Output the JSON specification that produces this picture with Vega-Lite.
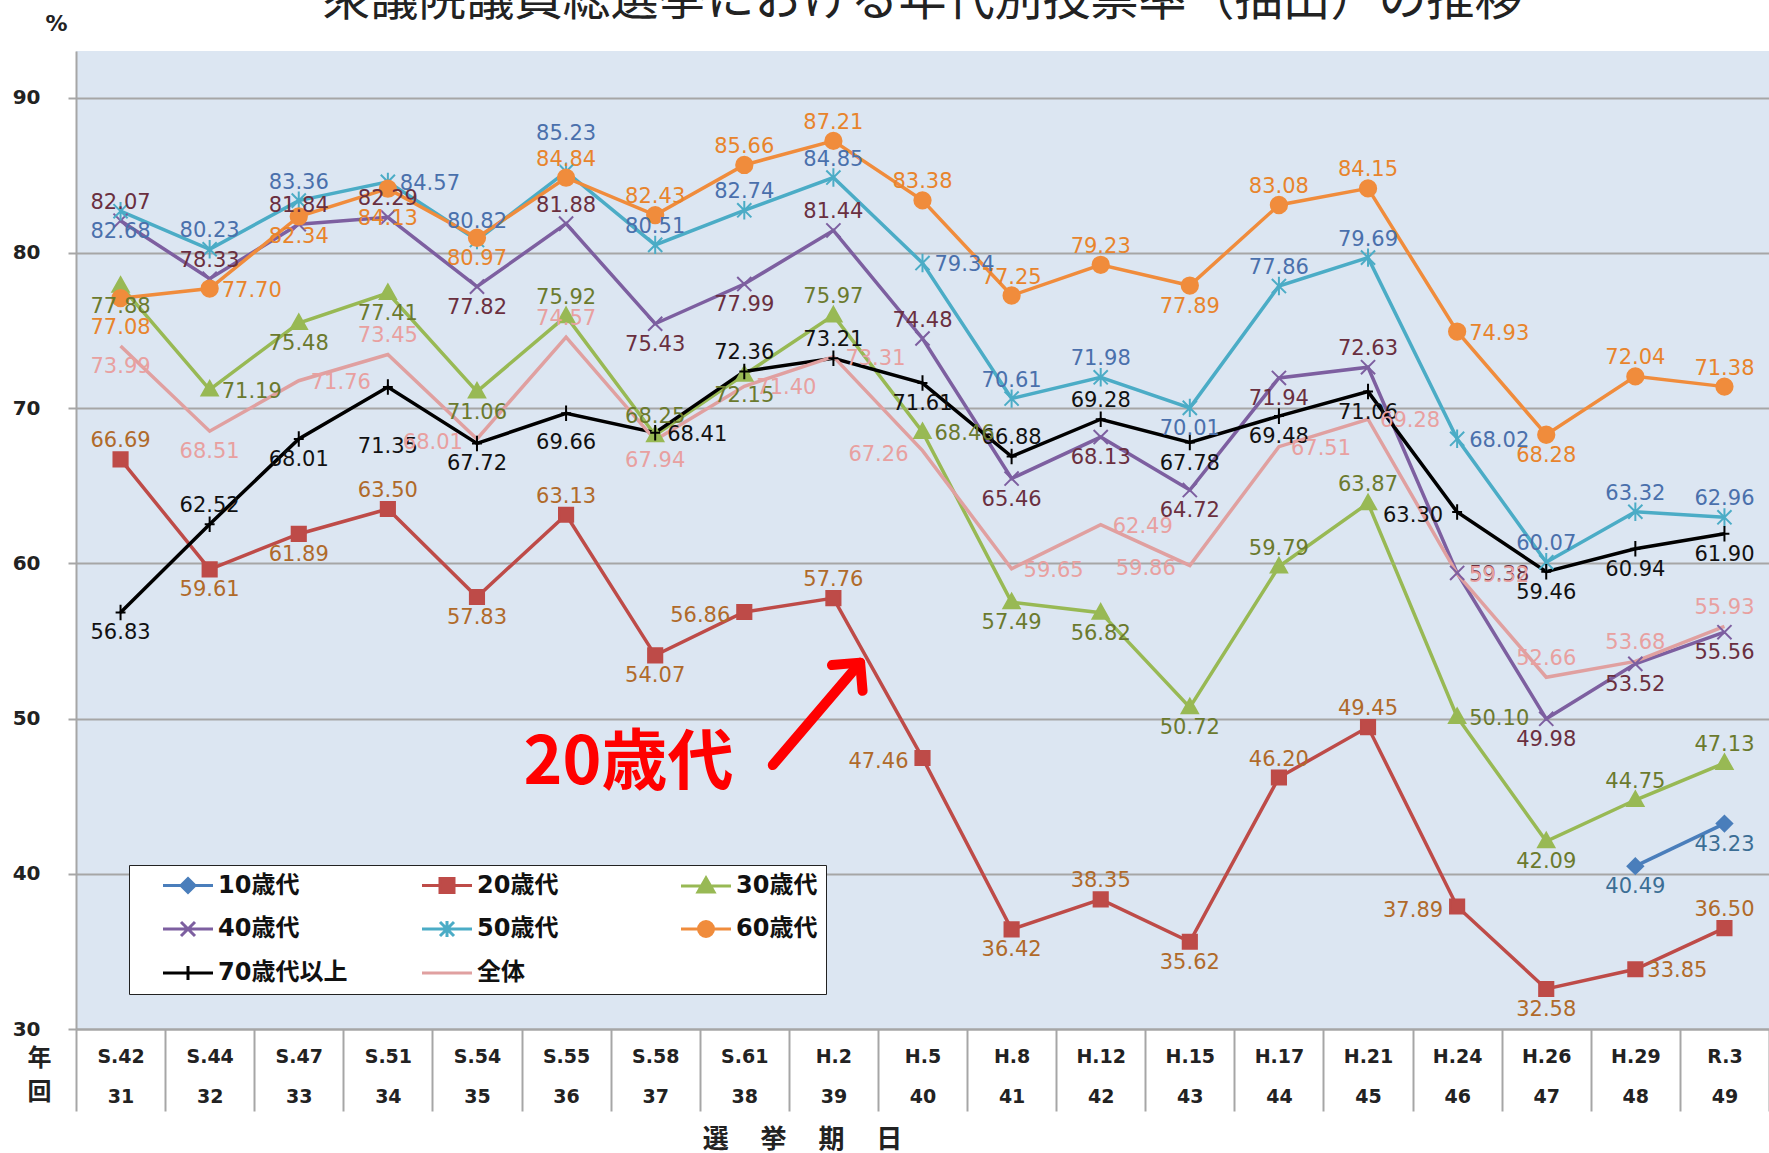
{
  "$schema": "https://vega.github.io/schema/vega-lite/v6.json",
  "width": 1693,
  "height": 978,
  "autosize": {"type": "none"},
  "padding": {"left": 76, "top": 51, "right": 0, "bottom": 124},
  "background": "#FFFFFF",
  "config": {
    "view": {"fill": "#DCE6F2", "stroke": null},
    "font": "DejaVu Sans"
  },
  "title": {
    "text": "衆議院議員総選挙における年代別投票率（抽出）の推移",
    "font": "Noto Sans CJK JP",
    "fontSize": 48,
    "fontWeight": "normal",
    "color": "#222222",
    "anchor": "middle",
    "frame": "group",
    "baseline": "alphabetic",
    "offset": 0,
    "dy": 51
  },
  "resolve": {"scale": {"x": "independent", "y": "independent"}},
  "layer": [
    {
      "data": {
        "values": [
          {"x": "S.42 31", "k": 31, "20歳代": 66.69, "30歳代": 77.88, "40歳代": 82.07, "50歳代": 82.68, "60歳代": 77.08, "70歳代以上": 56.83, "全体": 73.99},
          {"x": "S.44 32", "k": 32, "20歳代": 59.61, "30歳代": 71.19, "40歳代": 78.33, "50歳代": 80.23, "60歳代": 77.70, "70歳代以上": 62.52, "全体": 68.51},
          {"x": "S.47 33", "k": 33, "20歳代": 61.89, "30歳代": 75.48, "40歳代": 81.84, "50歳代": 83.36, "60歳代": 82.34, "70歳代以上": 68.01, "全体": 71.76},
          {"x": "S.51 34", "k": 34, "20歳代": 63.50, "30歳代": 77.41, "40歳代": 82.29, "50歳代": 84.57, "60歳代": 84.13, "70歳代以上": 71.35, "全体": 73.45},
          {"x": "S.54 35", "k": 35, "20歳代": 57.83, "30歳代": 71.06, "40歳代": 77.82, "50歳代": 80.82, "60歳代": 80.97, "70歳代以上": 67.72, "全体": 68.01},
          {"x": "S.55 36", "k": 36, "20歳代": 63.13, "30歳代": 75.92, "40歳代": 81.88, "50歳代": 85.23, "60歳代": 84.84, "70歳代以上": 69.66, "全体": 74.57},
          {"x": "S.58 37", "k": 37, "20歳代": 54.07, "30歳代": 68.25, "40歳代": 75.43, "50歳代": 80.51, "60歳代": 82.43, "70歳代以上": 68.41, "全体": 67.94},
          {"x": "S.61 38", "k": 38, "20歳代": 56.86, "30歳代": 72.15, "40歳代": 77.99, "50歳代": 82.74, "60歳代": 85.66, "70歳代以上": 72.36, "全体": 71.40},
          {"x": "H.2 39", "k": 39, "20歳代": 57.76, "30歳代": 75.97, "40歳代": 81.44, "50歳代": 84.85, "60歳代": 87.21, "70歳代以上": 73.21, "全体": 73.31},
          {"x": "H.5 40", "k": 40, "20歳代": 47.46, "30歳代": 68.46, "40歳代": 74.48, "50歳代": 79.34, "60歳代": 83.38, "70歳代以上": 71.61, "全体": 67.26},
          {"x": "H.8 41", "k": 41, "20歳代": 36.42, "30歳代": 57.49, "40歳代": 65.46, "50歳代": 70.61, "60歳代": 77.25, "70歳代以上": 66.88, "全体": 59.65},
          {"x": "H.12 42", "k": 42, "20歳代": 38.35, "30歳代": 56.82, "40歳代": 68.13, "50歳代": 71.98, "60歳代": 79.23, "70歳代以上": 69.28, "全体": 62.49},
          {"x": "H.15 43", "k": 43, "20歳代": 35.62, "30歳代": 50.72, "40歳代": 64.72, "50歳代": 70.01, "60歳代": 77.89, "70歳代以上": 67.78, "全体": 59.86},
          {"x": "H.17 44", "k": 44, "20歳代": 46.20, "30歳代": 59.79, "40歳代": 71.94, "50歳代": 77.86, "60歳代": 83.08, "70歳代以上": 69.48, "全体": 67.51},
          {"x": "H.21 45", "k": 45, "20歳代": 49.45, "30歳代": 63.87, "40歳代": 72.63, "50歳代": 79.69, "60歳代": 84.15, "70歳代以上": 71.06, "全体": 69.28},
          {"x": "H.24 46", "k": 46, "20歳代": 37.89, "30歳代": 50.10, "40歳代": 59.38, "50歳代": 68.02, "60歳代": 74.93, "70歳代以上": 63.30, "全体": 59.32},
          {"x": "H.26 47", "k": 47, "20歳代": 32.58, "30歳代": 42.09, "40歳代": 49.98, "50歳代": 60.07, "60歳代": 68.28, "70歳代以上": 59.46, "全体": 52.66},
          {"x": "H.29 48", "k": 48, "10歳代": 40.49, "20歳代": 33.85, "30歳代": 44.75, "40歳代": 53.52, "50歳代": 63.32, "60歳代": 72.04, "70歳代以上": 60.94, "全体": 53.68},
          {"x": "R.3 49", "k": 49, "10歳代": 43.23, "20歳代": 36.50, "30歳代": 47.13, "40歳代": 55.56, "50歳代": 62.96, "60歳代": 71.38, "70歳代以上": 61.90, "全体": 55.93}
        ]
      },
      "transform": [
        {"fold": ["10歳代", "20歳代", "30歳代", "40歳代", "50歳代", "60歳代", "70歳代以上", "全体"], "as": ["g", "v"]},
        {"filter": "isValid(datum.v)"}
      ],
      "encoding": {
        "x": {
          "field": "x",
          "type": "nominal",
          "scale": {
            "type": "band",
            "domain": ["S.42 31", "S.44 32", "S.47 33", "S.51 34", "S.54 35", "S.55 36", "S.58 37", "S.61 38", "H.2 39", "H.5 40", "H.8 41", "H.12 42", "H.15 43", "H.17 44", "H.21 45", "H.24 46", "H.26 47", "H.29 48", "R.3 49"],
            "paddingInner": 0,
            "paddingOuter": 0
          },
          "axis": {
            "orient": "bottom",
            "title": "選　  挙　  期　  日",
            "titleFont": "Noto Sans CJK JP",
            "titleFontSize": 26,
            "titleFontWeight": "bold",
            "titleColor": "#222222",
            "titleX": 726,
            "titleY": 110,
            "titleAlign": "center",
            "titleBaseline": "middle",
            "labelExpr": "split(datum.label, ' ')",
            "labelFont": "DejaVu Sans",
            "labelFontSize": 19,
            "labelFontWeight": "bold",
            "labelColor": "#222222",
            "labelLineHeight": 40,
            "labelBaseline": "top",
            "labelPadding": -64,
            "labelAngle": 0,
            "labelOverlap": false,
            "labelBound": false,
            "tickBand": "extent",
            "tickSize": 82,
            "tickColor": "#A6A6A6",
            "tickWidth": 2,
            "domainColor": "#A6A6A6",
            "domainWidth": 2,
            "grid": false
          }
        },
        "y": {
          "field": "v",
          "type": "quantitative",
          "scale": {"domain": [30, 93], "nice": false, "zero": false},
          "axis": {
            "orient": "left",
            "values": [30, 40, 50, 60, 70, 80, 90],
            "grid": true,
            "gridColor": "#A6A6A6",
            "gridWidth": 2,
            "tickSize": 8,
            "tickColor": "#A6A6A6",
            "tickWidth": 2,
            "domainColor": "#A6A6A6",
            "domainWidth": 2,
            "labelFont": "DejaVu Sans",
            "labelFontSize": 20,
            "labelFontWeight": "bold",
            "labelColor": "#222222",
            "labelPadding": 28,
            "title": "%",
            "titleAngle": 0,
            "titleX": -20,
            "titleY": -28,
            "titleAlign": "center",
            "titleBaseline": "middle",
            "titleFont": "DejaVu Sans",
            "titleFontSize": 22,
            "titleFontWeight": "bold",
            "titleColor": "#222222"
          }
        }
      },
      "layer": [
        {
          "mark": {"type": "line", "strokeWidth": 3.5},
          "encoding": {
            "order": {"field": "k", "type": "quantitative"},
            "color": {
              "field": "g",
              "type": "nominal",
              "scale": {
                "domain": ["10歳代", "20歳代", "30歳代", "40歳代", "50歳代", "60歳代", "70歳代以上", "全体"],
                "range": ["#4A7EBB", "#BE4B48", "#98B954", "#7D5FA0", "#4BACC6", "#F08C3C", "#000000", "#E0A0A0"]
              },
              "legend": {
                "orient": "none",
                "legendX": 53,
                "legendY": 814,
                "direction": "horizontal",
                "columns": 3,
                "title": null,
                "fillColor": "#FFFFFF",
                "strokeColor": "#222222",
                "padding": 8,
                "rowPadding": 16,
                "columnPadding": 48,
                "gridAlign": "all",
                "symbolSize": 400,
                "symbolStrokeWidth": 3,
                "labelOffset": 57,
                "labelFont": "DejaVu Sans, Noto Sans CJK JP",
                "labelFontSize": 24,
                "labelFontWeight": "bold",
                "labelColor": "#111111",
                "labelLimit": 300,
                "encode": {
                  "symbols": {
                    "update": {
                      "shape": {"signal": "datum.value === '10歳代' ? 'M1.4,0H6.4M3.9,-0.7L4.6,0L3.9,0.7L3.2,0Z' : datum.value === '20歳代' ? 'M1.4,0H6.4M3.2,-0.7H4.6V0.7H3.2Z' : datum.value === '30歳代' ? 'M1.4,0H6.4M3.9,-0.8L4.7,0.6H3.1Z' : datum.value === '40歳代' ? 'M1.4,0H6.4M3.2,-0.7L4.6,0.7M3.2,0.7L4.6,-0.7' : datum.value === '50歳代' ? 'M1.4,0H6.4M3.2,-0.7L4.6,0.7M3.2,0.7L4.6,-0.7M3.9,-0.8V0.8' : datum.value === '60歳代' ? 'M1.4,0H6.4M4.65,0A0.75,0.75,0,1,1,3.15,0A0.75,0.75,0,1,1,4.65,0Z' : datum.value === '70歳代以上' ? 'M1.4,0H6.4M3.9,-0.7V0.7' : 'M1.4,0H6.4'"},
                      "fill": {"scale": "color", "field": "value"},
                      "stroke": {"scale": "color", "field": "value"},
                      "opacity": {"value": 1}
                    }
                  }
                }
              }
            }
          }
        },
        {
          "transform": [{"filter": "datum.g !== '全体'"}],
          "mark": {"type": "point", "filled": true, "size": 200, "strokeWidth": 2, "opacity": 1},
          "encoding": {
            "color": {"field": "g", "type": "nominal"},
            "shape": {
              "field": "g",
              "type": "nominal",
              "scale": {
                "domain": ["10歳代", "20歳代", "30歳代", "40歳代", "50歳代", "60歳代", "70歳代以上"],
                "range": [
                  "M0,-1.1L1.1,0L0,1.1L-1.1,0Z",
                  "M-1,-1H1V1H-1Z",
                  "M0,-1.2L1.15,0.85H-1.15Z",
                  "M-1,-1L1,1M-1,1L1,-1",
                  "M-1,-1L1,1M-1,1L1,-1M0,-1.3V1.3",
                  "M1.15,0A1.15,1.15,0,1,1,-1.15,0A1.15,1.15,0,1,1,1.15,0Z",
                  "M0,-1.1V1.1M-0.7,0H0.7"
                ]
              },
              "legend": null
            },
            "stroke": {
              "field": "g",
              "type": "nominal",
              "scale": {
                "domain": ["10歳代", "20歳代", "30歳代", "40歳代", "50歳代", "60歳代", "70歳代以上", "全体"],
                "range": ["#4A7EBB", "#BE4B48", "#98B954", "#7D5FA0", "#4BACC6", "#F08C3C", "#000000", "#E0A0A0"]
              },
              "legend": null
            }
          }
        },
        {
          "transform": [
            {"filter": "(datum.g == '20歳代' && indexof([31,34,36,39,42,44,45,49], datum.k) >= 0) || (datum.g == '30歳代' && indexof([36,37,39,44,45,48,49], datum.k) >= 0) || (datum.g == '40歳代' && indexof([31,32,33,34,36,39,40,45], datum.k) >= 0) || (datum.g == '50歳代' && indexof([32,33,35,37,38,39,41,42,44,45,47,48,49], datum.k) >= 0) || (datum.g == '60歳代' && indexof([36,37,38,39,40,41,42,44,45,48,49], datum.k) >= 0) || (datum.g == '70歳代以上' && indexof([32,38,39,41,42], datum.k) >= 0) || (datum.g == '全体' && indexof([34,36,47,48,49], datum.k) >= 0)"}
          ],
          "mark": {"type": "text", "font": "DejaVu Sans", "fontSize": 21, "dy": -18, "baseline": "middle", "align": "center"},
          "encoding": {
            "text": {"field": "v", "type": "quantitative", "format": ".2f"},
            "fill": {
              "field": "g",
              "type": "nominal",
              "scale": {
                "domain": ["10歳代", "20歳代", "30歳代", "40歳代", "50歳代", "60歳代", "70歳代以上", "全体"],
                "range": ["#3B6E95", "#B06A2A", "#6B7A2E", "#6A2F3F", "#4A70AC", "#E8842C", "#111111", "#E8A0A0"]
              },
              "legend": null
            }
          }
        },
        {
          "transform": [
            {"filter": "(datum.g == '50歳代' && datum.k == 36)"}
          ],
          "mark": {"type": "text", "font": "DejaVu Sans", "fontSize": 21, "dy": -38, "baseline": "middle", "align": "center"},
          "encoding": {
            "text": {"field": "v", "type": "quantitative", "format": ".2f"},
            "fill": {
              "field": "g",
              "type": "nominal",
              "scale": {
                "domain": ["10歳代", "20歳代", "30歳代", "40歳代", "50歳代", "60歳代", "70歳代以上", "全体"],
                "range": ["#3B6E95", "#B06A2A", "#6B7A2E", "#6A2F3F", "#4A70AC", "#E8842C", "#111111", "#E8A0A0"]
              },
              "legend": null
            }
          }
        },
        {
          "transform": [
            {"filter": "(datum.g == '10歳代') || (datum.g == '20歳代' && indexof([32,33,35,37,41,43,47], datum.k) >= 0) || (datum.g == '30歳代' && indexof([31,33,34,35,38,41,42,43,47], datum.k) >= 0) || (datum.g == '40歳代' && indexof([35,37,38,41,42,43,44,47,48,49], datum.k) >= 0) || (datum.g == '50歳代' && indexof([31,43], datum.k) >= 0) || (datum.g == '60歳代' && indexof([33,35,43,47], datum.k) >= 0) || (datum.g == '70歳代以上' && indexof([31,33,35,40,43,44,45,47,48,49], datum.k) >= 0) || (datum.g == '全体' && indexof([31,32,37], datum.k) >= 0)"}
          ],
          "mark": {"type": "text", "font": "DejaVu Sans", "fontSize": 21, "dy": 21, "baseline": "middle", "align": "center"},
          "encoding": {
            "text": {"field": "v", "type": "quantitative", "format": ".2f"},
            "fill": {
              "field": "g",
              "type": "nominal",
              "scale": {
                "domain": ["10歳代", "20歳代", "30歳代", "40歳代", "50歳代", "60歳代", "70歳代以上", "全体"],
                "range": ["#3B6E95", "#B06A2A", "#6B7A2E", "#6A2F3F", "#4A70AC", "#E8842C", "#111111", "#E8A0A0"]
              },
              "legend": null
            }
          }
        },
        {
          "transform": [
            {"filter": "(datum.g == '60歳代' && indexof([31,34], datum.k) >= 0) || (datum.g == '70歳代以上' && indexof([36], datum.k) >= 0)"}
          ],
          "mark": {"type": "text", "font": "DejaVu Sans", "fontSize": 21, "dy": 30, "baseline": "middle", "align": "center"},
          "encoding": {
            "text": {"field": "v", "type": "quantitative", "format": ".2f"},
            "fill": {
              "field": "g",
              "type": "nominal",
              "scale": {
                "domain": ["10歳代", "20歳代", "30歳代", "40歳代", "50歳代", "60歳代", "70歳代以上", "全体"],
                "range": ["#3B6E95", "#B06A2A", "#6B7A2E", "#6A2F3F", "#4A70AC", "#E8842C", "#111111", "#E8A0A0"]
              },
              "legend": null
            }
          }
        },
        {
          "transform": [
            {"filter": "(datum.g == '70歳代以上' && datum.k == 34)"}
          ],
          "mark": {"type": "text", "font": "DejaVu Sans", "fontSize": 21, "dy": 60, "baseline": "middle", "align": "center"},
          "encoding": {
            "text": {"field": "v", "type": "quantitative", "format": ".2f"},
            "fill": {
              "field": "g",
              "type": "nominal",
              "scale": {
                "domain": ["10歳代", "20歳代", "30歳代", "40歳代", "50歳代", "60歳代", "70歳代以上", "全体"],
                "range": ["#3B6E95", "#B06A2A", "#6B7A2E", "#6A2F3F", "#4A70AC", "#E8842C", "#111111", "#E8A0A0"]
              },
              "legend": null
            }
          }
        },
        {
          "transform": [
            {"filter": "(datum.g == '20歳代' && indexof([38,40,46], datum.k) >= 0) || (datum.g == '70歳代以上' && indexof([46], datum.k) >= 0) || (datum.g == '全体' && indexof([35,40,43], datum.k) >= 0)"}
          ],
          "mark": {"type": "text", "font": "DejaVu Sans", "fontSize": 21, "dx": -14, "dy": 4, "baseline": "middle", "align": "right"},
          "encoding": {
            "text": {"field": "v", "type": "quantitative", "format": ".2f"},
            "fill": {
              "field": "g",
              "type": "nominal",
              "scale": {
                "domain": ["10歳代", "20歳代", "30歳代", "40歳代", "50歳代", "60歳代", "70歳代以上", "全体"],
                "range": ["#3B6E95", "#B06A2A", "#6B7A2E", "#6A2F3F", "#4A70AC", "#E8842C", "#111111", "#E8A0A0"]
              },
              "legend": null
            }
          }
        },
        {
          "transform": [
            {"filter": "(datum.g == '20歳代' && indexof([48], datum.k) >= 0) || (datum.g == '30歳代' && indexof([32,40,46], datum.k) >= 0) || (datum.g == '40歳代' && indexof([46], datum.k) >= 0) || (datum.g == '50歳代' && indexof([34,40,46], datum.k) >= 0) || (datum.g == '60歳代' && indexof([32,46], datum.k) >= 0) || (datum.g == '70歳代以上' && indexof([37], datum.k) >= 0) || (datum.g == '全体' && indexof([33,38,39,41,42,44,45,46], datum.k) >= 0)"}
          ],
          "mark": {"type": "text", "font": "DejaVu Sans", "fontSize": 21, "dx": 12, "dy": 2, "baseline": "middle", "align": "left"},
          "encoding": {
            "text": {"field": "v", "type": "quantitative", "format": ".2f"},
            "fill": {
              "field": "g",
              "type": "nominal",
              "scale": {
                "domain": ["10歳代", "20歳代", "30歳代", "40歳代", "50歳代", "60歳代", "70歳代以上", "全体"],
                "range": ["#3B6E95", "#B06A2A", "#6B7A2E", "#6A2F3F", "#4A70AC", "#E8842C", "#111111", "#E8A0A0"]
              },
              "legend": null
            }
          }
        }
      ]
    },
    {
      "encoding": {
        "x": {
          "field": "ax",
          "type": "quantitative",
          "scale": {"domain": [-0.5, 18.5], "nice": false, "zero": false},
          "axis": {
            "orient": "top",
            "domain": false,
            "ticks": false,
            "labels": false,
            "grid": false,
            "title": ["年", "回"],
            "titleX": -37,
            "titleY": 995,
            "titleAngle": 0,
            "titleAlign": "center",
            "titleBaseline": "top",
            "titleLineHeight": 34,
            "titleFont": "Noto Sans CJK JP",
            "titleFontSize": 24,
            "titleFontWeight": "bold",
            "titleColor": "#222222"
          }
        },
        "y": {
          "field": "ay",
          "type": "quantitative",
          "scale": {"domain": [30, 93], "nice": false, "zero": false},
          "axis": null
        }
      },
      "layer": [
        {
          "data": {"values": [{"ax": 7.32, "ay": 47.0}, {"ax": 8.30, "ay": 53.6}]},
          "mark": {"type": "line", "color": "#FF0000", "strokeWidth": 10, "strokeCap": "round"},
          "encoding": {}
        },
        {
          "data": {"values": [{"ax": 8.30, "ay": 53.6}]},
          "mark": {"type": "point", "shape": "M-1,1L0,0L1,1", "size": 1600, "angle": 40, "filled": false, "color": "#FF0000", "strokeWidth": 10, "strokeCap": "round", "strokeJoin": "round", "opacity": 1},
          "encoding": {}
        },
        {
          "data": {"values": [{"ax": 5.70, "ay": 47.05, "t": "20歳代"}]},
          "mark": {"type": "text", "font": "Noto Sans CJK JP", "fontSize": 66, "fontWeight": "bold", "color": "#FF0000", "baseline": "middle", "align": "center"},
          "encoding": {"text": {"field": "t"}}
        }
      ]
    }
  ]
}
